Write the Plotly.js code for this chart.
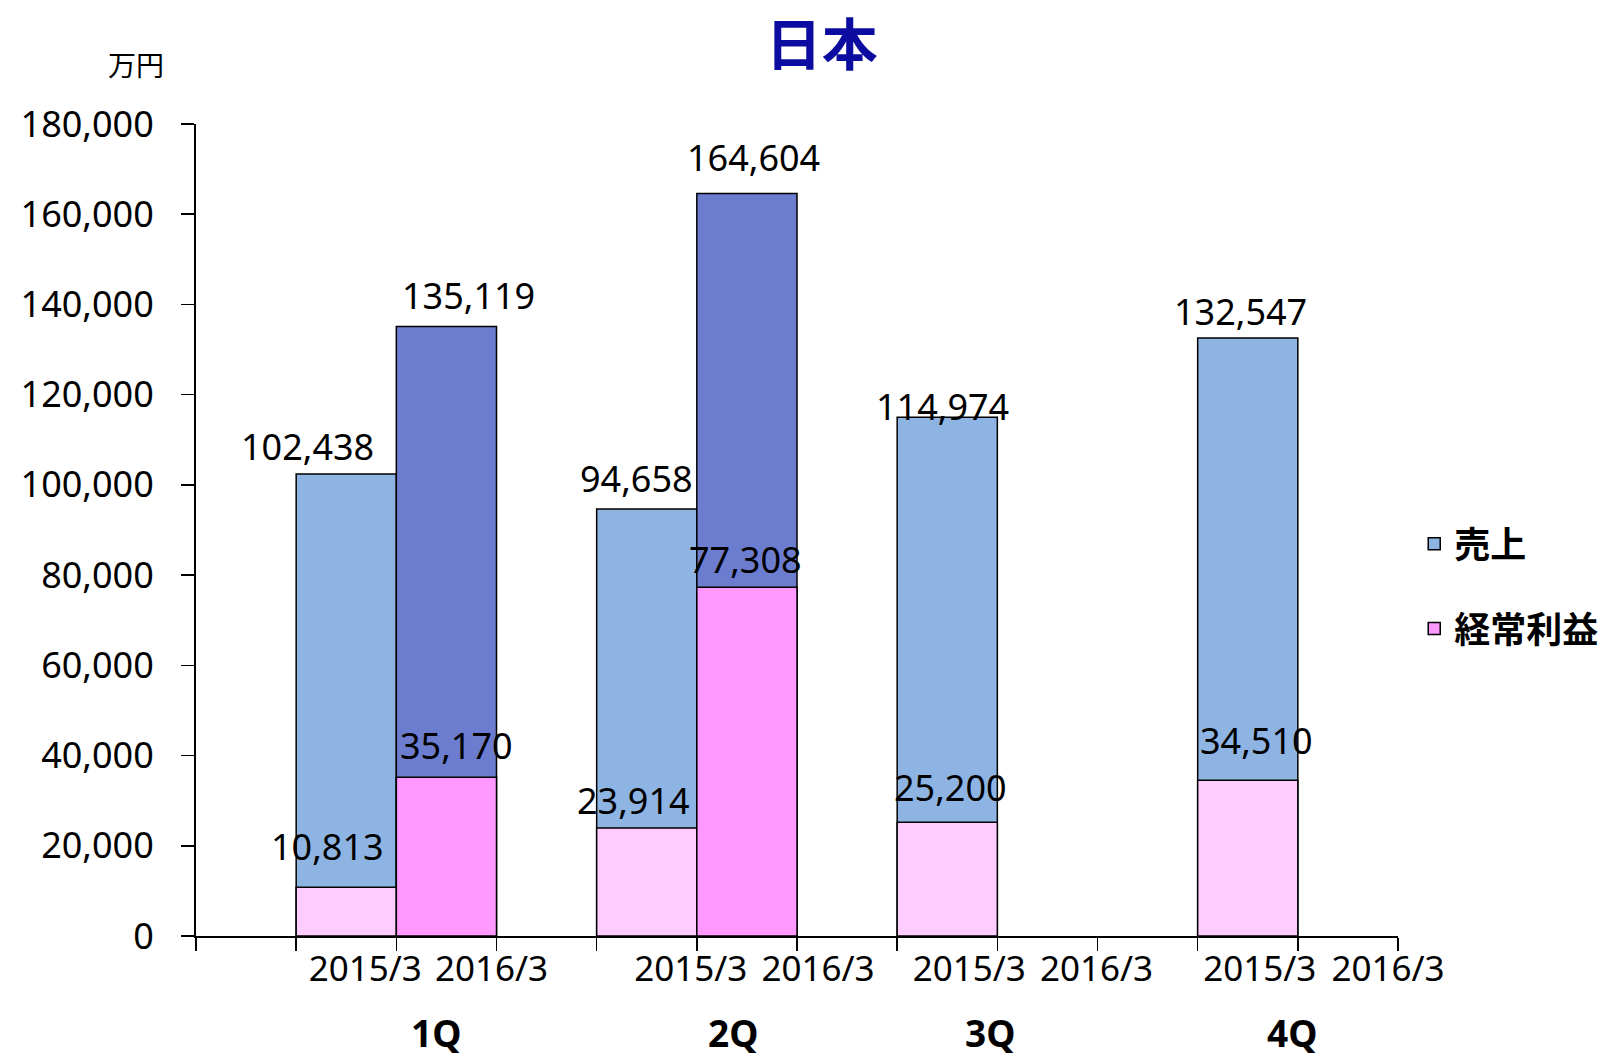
<!DOCTYPE html>
<html>
<head>
<meta charset="utf-8">
<script src="https://cdn.plot.ly/plotly-3.0.1.min.js"></script>
<style>html,body{margin:0;padding:0;background:#fff}#chart{width:1605px;height:1062px}</style>
</head>
<body>
<div id="chart"></div>
<script>
// ---- data ----
var quarters = ['1Q', '2Q', '3Q', '4Q'];
var years = ['2015/3', '2016/3'];
var sales2015 = [102438, 94658, 114974, 132547];
var sales2016 = [135119, 164604, null, null];
var profit2015 = [10813, 23914, 25200, 34510];
var profit2016 = [35170, 77308, null, null];
var seriesNames = ['売上', '経常利益'];

// ---- layout helpers (positions / styles) ----
var FONT = '"Noto Sans", "Noto Sans CJK JP", sans-serif';
var JFONT = '"Noto Sans CJK JP", "Noto Sans", sans-serif';
function pos(q, yi) { return 3 * q + 1 + yi; }
var x2015 = quarters.map(function (q, i) { return pos(i, 0); });
var x2016 = quarters.map(function (q, i) { return pos(i, 1); });

var boundaryTicks = [];
for (var b = -0.5; b <= 11.5; b += 1) boundaryTicks.push(b);
var labelShift = [[0.19, 0.45], [0.44, 0.71], [0.22, 0.49], [0.12, 0.40]];
var tickPos = [], tickText = [];
quarters.forEach(function (q, i) {
  years.forEach(function (y, j) {
    tickPos.push(pos(i, j) + labelShift[i][j]);
    tickText.push(y);
  });
});
var groupShift = [0.90, 0.86, 0.43, 0.44];

// pixel nudges for the value labels [xshift, yshift] (label centre vs bar top)
var nudgeS15 = [[-39, 27], [-10, 30], [-5, 11], [-7, 27]];
var nudgeS16 = [[22, 31], [7, 36], null, null];
var nudgeP15 = [[-19, 41], [-13, 28], [3, 35], [9, 40]];
var nudgeP16 = [[10, 32], [-1, 28], null, null];

var line = { color: '#000', width: 1.5 };
function barTrace(x, y, color, name, group, showlegend) {
  return {
    type: 'bar', x: x, y: y, width: 1, name: name, legendgroup: group,
    showlegend: showlegend,
    marker: { color: color, line: line },
    hoverinfo: 'skip'
  };
}

var traces = [
  barTrace(x2015, sales2015, '#8EB4E3', seriesNames[0], 's', true),
  barTrace(x2016, sales2016, '#6C7DD0', seriesNames[0], 's', false),
  barTrace(x2015, profit2015, '#FFCCFF', seriesNames[1], 'p', false),
  barTrace(x2016, profit2016, '#FF99FF', seriesNames[1], 'p', true)
];

var annotations = [{
  text: '万円', xref: 'paper', yref: 'paper', x: -0.0503, y: 1.074,
  xanchor: 'center', yanchor: 'middle', showarrow: false,
  font: { family: JFONT, size: 28, color: '#000' }
}];
quarters.forEach(function (q, i) {
  annotations.push({
    text: q, xref: 'x', yref: 'paper', x: pos(i, 0) + groupShift[i], y: -0.119,
    xanchor: 'center', yanchor: 'middle', showarrow: false,
    font: { family: FONT, size: 37, color: '#000', weight: 'bold' }
  });
});
function addLabels(xs, ys, nudges) {
  ys.forEach(function (v, i) {
    if (v === null) return;
    annotations.push({
      text: v.toLocaleString('en-US'), xref: 'x', yref: 'y', x: xs[i], y: v,
      xanchor: 'center', yanchor: 'middle', showarrow: false,
      xshift: nudges[i][0], yshift: nudges[i][1],
      font: { family: FONT, size: 36, color: '#000' }
    });
  });
}
addLabels(x2015, sales2015, nudgeS15);
addLabels(x2016, sales2016, nudgeS16);
addLabels(x2015, profit2015, nudgeP15);
addLabels(x2016, profit2016, nudgeP16);

var layout = {
  width: 1605, height: 1062,
  margin: { l: 196, r: 207, t: 124, b: 126, autoexpand: false },
  paper_bgcolor: '#fff', plot_bgcolor: '#fff',
  barmode: 'overlay',
  font: { family: FONT, color: '#000' },
  title: {
    text: '日本', x: 0.512, xanchor: 'center', y: 0.957, yanchor: 'middle',
    font: { family: JFONT, size: 56, color: '#0C0CA0', weight: 'bold' }
  },
  xaxis: {
    range: [-0.5, 11.5], showgrid: false, zeroline: false,
    showline: true, linecolor: '#000', linewidth: 2,
    tickmode: 'array', tickvals: tickPos, ticktext: tickText,
    ticks: 'outside', ticklen: 1, tickcolor: 'rgba(0,0,0,0)',
    tickfont: { family: FONT, size: 35, color: '#000' },
    minor: { tickmode: 'array', tickvals: boundaryTicks, ticks: 'outside',
             ticklen: 13, tickwidth: 1.5, tickcolor: '#000', showgrid: false },
    fixedrange: true
  },
  yaxis: {
    range: [0, 180000], dtick: 20000, tick0: 0, tickformat: ',',
    showgrid: false, zeroline: false,
    showline: true, linecolor: '#000', linewidth: 2,
    ticks: 'outside', ticklen: 13, tickwidth: 1.5, tickcolor: '#000',
    ticklabelstandoff: 20,
    tickfont: { family: FONT, size: 36, color: '#000' },
    fixedrange: true
  },
  legend: {
    x: 1.0135, xanchor: 'left', y: 0.52, yanchor: 'top',
    traceorder: 'grouped', tracegroupgap: 35,
    font: { family: JFONT, size: 36, color: '#000', weight: 'bold' },
    bgcolor: 'rgba(0,0,0,0)'
  },
  annotations: annotations,
  showlegend: true
};

Plotly.newPlot('chart', traces, layout, { staticPlot: true, displayModeBar: false });
</script>
</body>
</html>
